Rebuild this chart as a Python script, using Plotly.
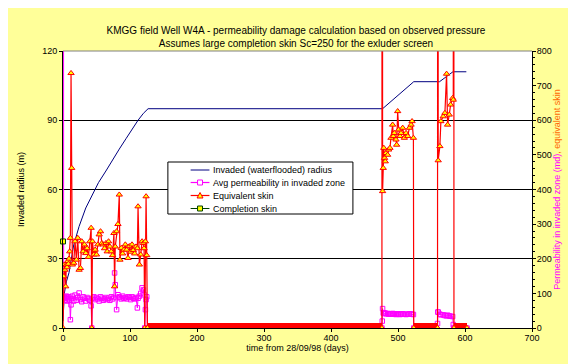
import plotly.graph_objects as go

# ---------------- data ----------------
# Invaded (waterflooded) radius, m  (left axis)
radius_days = [0, 2, 5, 9, 16, 24, 34, 44, 53, 64, 74, 84, 94, 104, 112, 120, 127,
               477, 523.5, 562, 582, 602]
radius_m = [3, 15, 20, 24, 36, 44, 52, 58, 63, 68, 73, 77.5, 82, 86.5, 90, 93, 95,
            95, 106.7, 106.7, 111, 111]

# first period of observations
days_a = [0, 1, 2, 3, 4, 5, 6, 7, 8, 9,
          10, 11, 12, 13, 14, 16, 18, 20, 22, 24,
          26, 28, 30, 32, 34, 36, 38, 40, 42, 43,
          44, 46, 48, 50, 52, 54, 56, 58, 60, 62,
          64, 66, 68, 70, 72, 74, 76, 77, 78, 80,
          82, 84, 85, 87, 89, 91, 93, 95, 97, 99,
          101, 103, 105, 107, 109, 111, 112, 114, 116, 118,
          120, 121, 122, 123, 124, 125, 126]
skin_a = [0, 149, 183, 168, 120, 183, 175, 193, 185, 200,
          221, 260, 736, 462, 183, 188, 250, 197, 260, 168,
          173, 250, 221, 241, 216, 230, 205, 250, 289, 0,
          250, 212, 226, 212, 241, 270, 279, 245, 241, 230,
          245, 221, 250, 235, 221, 210, 274, 120, 235, 279,
          300, 385, 197, 231, 215, 226, 241, 226, 202, 236,
          220, 241, 225, 215, 235, 230, 351, 183, 212, 250,
          245, 230, 0, 250, 380, 210, 0]
perm_a = [5000, 87, 90, 80, 85, 92, 78, 88, 84, 90,
          80, 24, 67, 85, 92, 78, 95, 80, 88, 101,
          82, 76, 90, 86, 78, 88, 84, 80, 64, 0,
          86, 90, 82, 88, 84, 78, 90, 86, 80, 84,
          88, 82, 86, 80, 90, 84, 88, 159, 125, 53,
          96, 90, 88, 84, 92, 86, 88, 84, 90, 88,
          82, 90, 86, 84, 88, 58, 86, 92, 100, 116,
          110, 96, 0, 53, 82, 90, 0]

# second period
days_b = [476, 476.5, 477, 478, 478.8, 480, 481, 482, 484.5, 486,
          488, 489.5, 492, 493, 494.5, 497, 498, 499.5, 501, 503,
          504.5, 507, 509.5, 512, 514.5, 517, 519.5, 521, 523, 523.5]
skin_b = [0, 5000, 395, 462, 520, 491, 481, 505, 500, 515,
          520, 549, 587, 554, 563, 544, 529, 626, 573, 554,
          563, 578, 549, 563, 554, 578, 587, 597, 549, 0]
perm_b = [0, 20, 56, 43, 44, 42, 43, 41, 42, 40,
          41, 40, 42, 40, 41, 39, 40, 41, 40, 39,
          40, 41, 40, 39, 40, 41, 40, 40, 39, 0]

# third period
days_c = [559, 559.5, 560, 562.5, 564, 567.5, 570, 572.5, 574, 576.5,
          578.5, 581.5, 582.5, 583, 583.5, 603]
skin_c = [0, 5000, 484, 525, 597, 611, 621, 734, 587, 616,
          645, 664, 659, 5000, 0, 0]
perm_c = [13, 46, 46, 40, 38, 38, 36, 35, 37, 35,
          34, 33, 10, 0, 0, 0]

# completion skin
completion_days = [0]
completion_skin = [250]

days = days_a + days_b + days_c
skin = skin_a + skin_b + skin_c
perm = perm_a + perm_b + perm_c
skin_zero = [v if v == 0 else None for v in skin]

x_ticks = [0, 100, 200, 300, 400, 500, 600, 700]
y_ticks = [0, 30, 60, 90, 120]
y2_ticks = [0, 100, 200, 300, 400, 500, 600, 700, 800]

legend_names = ["Invaded (waterflooded) radius", "Avg permeability in invaded zone",
                "Equivalent skin", "Completion skin"]

# ---------------- styling ----------------
W, H = 576, 364
ML, MR, MT, MB = 50, 52, 43, 44
PW, PH = W - ML - MR, H - MT - MB
FONT = "Arial, Liberation Sans, sans-serif"
NAVY, MAGENTA, RED, GREEN, YEL = "#000080", "#FF00FF", "#FF0000", "#004000", "#FFFF00"


def px(x):
    return (x - ML) / PW


def py(y):
    return (H - MB - y) / PH


fig = go.Figure()
fig.add_trace(go.Scatter(x=radius_days, y=radius_m, mode="lines",
                         line=dict(color=NAVY, width=1), name=legend_names[0],
                         showlegend=False))
fig.add_trace(go.Scatter(x=days, y=perm, mode="lines+markers", yaxis="y2",
                         line=dict(color=MAGENTA, width=1),
                         marker=dict(symbol="square-open", size=4.5, color=MAGENTA,
                                     line=dict(width=1)),
                         name=legend_names[1], showlegend=False))
fig.add_trace(go.Scatter(x=days, y=skin_zero, mode="lines", yaxis="y2",
                         line=dict(color=RED, width=10), connectgaps=False,
                         showlegend=False, hoverinfo="skip"))
fig.add_trace(go.Scatter(x=days, y=skin, mode="lines+markers", yaxis="y2",
                         line=dict(color=RED, width=1.2),
                         marker=dict(symbol="triangle-up", size=5.5, color=YEL,
                                     line=dict(color=RED, width=1)),
                         name=legend_names[2], showlegend=False))
fig.add_trace(go.Scatter(x=completion_days, y=completion_skin, mode="lines+markers",
                         yaxis="y2", cliponaxis=False,
                         line=dict(color=GREEN, width=1),
                         marker=dict(symbol="square", size=5, color=YEL,
                                     line=dict(color=GREEN, width=1)),
                         name=legend_names[3], showlegend=False))

shapes = []
annotations = []
# top border of plot area (grey)
shapes.append(dict(type="line", xref="paper", yref="paper", x0=0, x1=1, y0=1, y1=1,
                   line=dict(color="#808080", width=1), layer="above"))

# manual legend
bx0, bx1, by0, by1 = 156, 343, 154, 206
shapes.append(dict(type="rect", xref="paper", yref="paper",
                   x0=px(bx0), x1=px(bx1), y0=py(by1), y1=py(by0),
                   line=dict(color="black", width=1), fillcolor="white", layer="above"))
rows = [162, 174.5, 187.5, 200.5]
colors = [NAVY, MAGENTA, RED, GREEN]
lx0, lx1, mx = 179, 198, 188.5
for i, (name, yy, col) in enumerate(zip(legend_names, rows, colors)):
    shapes.append(dict(type="line", xref="paper", yref="paper",
                       x0=px(lx0), x1=px(lx1), y0=py(yy), y1=py(yy),
                       line=dict(color=col, width=1.2 if i in (1, 2) else 1), layer="above"))
    if i in (1, 3):
        shapes.append(dict(type="rect", xref="paper", yref="paper",
                           x0=px(mx - 2.5), x1=px(mx + 2.5), y0=py(yy + 2.5), y1=py(yy - 2.5),
                           line=dict(color=col, width=1),
                           fillcolor="white" if i == 1 else YEL, layer="above"))
    if i == 2:
        path = "M {} {} L {} {} L {} {} Z".format(px(mx - 3), py(yy + 2.5), px(mx + 3), py(yy + 2.5),
                                                  px(mx), py(yy - 3))
        shapes.append(dict(type="path", xref="paper", yref="paper", path=path,
                           line=dict(color=RED, width=1), fillcolor=YEL, layer="above"))
    annotations.append(dict(xref="paper", yref="paper", x=px(200), y=py(yy),
                            xanchor="left", yanchor="middle", showarrow=False,
                            text=name, font=dict(family=FONT, size=9, color="black")))

axis_font = dict(family=FONT, size=9, color="black")
fig.update_layout(
    width=W, height=H,
    margin=dict(l=ML, r=MR, t=MT, b=MB, pad=0),
    paper_bgcolor="#FFFF99", plot_bgcolor="white",
    showlegend=False,
    title=dict(text="KMGG field Well W4A - permeability damage calculation based on observed pressure"
                    "<br>Assumes large completion skin Sc=250 for the exluder screen",
               x=0.5, xref="container", xanchor="center",
               y=1 - 25.5 / H, yref="container", yanchor="middle",
               font=dict(family=FONT, size=10, color="black")),
    xaxis=dict(range=[0, 700], tickvals=x_ticks, ticks="outside", ticklen=3,
               tickcolor="black", showline=True, linecolor="black", linewidth=1,
               showgrid=False, zeroline=False, tickfont=axis_font,
               ticklabelstandoff=-2,
               title=dict(text="time from 28/09/98 (days)", font=axis_font, standoff=2)),
    yaxis=dict(range=[0, 120], tickvals=y_ticks, ticks="outside", ticklen=3,
               tickcolor="black", showline=True, linecolor="black", linewidth=1,
               showgrid=True, gridcolor="black", gridwidth=1, zeroline=False,
               tickfont=axis_font,
               title=dict(text="Invaded radius (m)", font=axis_font, standoff=16)),
    yaxis2=dict(range=[0, 800], tickvals=y2_ticks, overlaying="y", side="right",
                ticks="outside", ticklen=3, tickcolor="black",
                minor=dict(dtick=20, ticks="outside", ticklen=2, tickcolor="black"),
                showline=True, linecolor="black", linewidth=1,
                showgrid=False, zeroline=False, tickfont=axis_font,
                ticklabelstandoff=-1,
                title=dict(text='<span style="color:#FF00FF">Permeability in invaded zone (md)</span>'
                                '<span style="color:#FF6600">, equivalent skin</span>',
                           font=axis_font, standoff=0)),
    shapes=shapes, annotations=annotations,
)

fig.write_html("out.html")
